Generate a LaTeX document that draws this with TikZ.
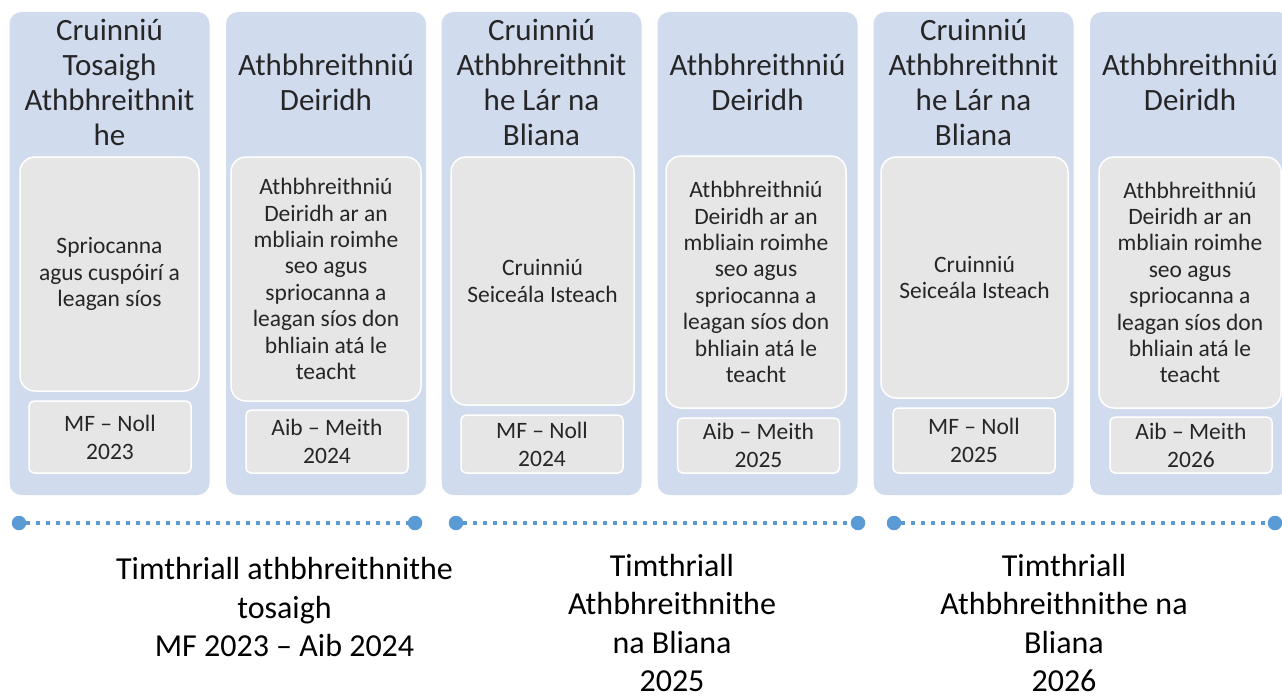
\documentclass[tikz,border=0pt]{standalone}
\usepackage{fontspec}
\setmainfont{Carlito}
\usepackage{tikz}
\usetikzlibrary{positioning,shapes,backgrounds,calc}
\definecolor{colblue}{HTML}{D0DBEE}
\definecolor{boxgrey}{HTML}{E6E6E6}
\definecolor{dotblue}{HTML}{5B9BD5}
\definecolor{ink}{HTML}{262626}

\begin{document}
\begin{tikzpicture}[x=1pt, y=1pt]
        \tikzset{
            column/.style={fill=colblue, rounded corners=12pt, minimum width=200pt, minimum height=483pt, inner sep=0pt},
            card/.style={fill=boxgrey, draw=white, line width=1.5pt, rounded corners=15pt, inner sep=0pt},
            datebox/.style={fill=boxgrey, draw=white, line width=1.5pt, rounded corners=5pt, inner sep=0pt, minimum width=162pt},
            heading/.style={font=\fontsize{31}{35}\selectfont, align=center, text=ink, inner sep=0pt},
            cardtext/.style={font=\fontsize{23.5}{26.4}\selectfont, align=center, text=ink, inner sep=0pt},
            datetext/.style={font=\fontsize{23.5}{28}\selectfont, align=center, text=ink, inner sep=0pt},
            cycle/.style={font=\fontsize{32}{38.5}\selectfont, align=center, text=black, inner sep=0pt},
            endpoint/.style={circle, fill=dotblue, minimum size=14.5pt, inner sep=0pt},
            timeline/.style={dotblue, line width=3.5pt, dash pattern=on 3.5pt off 6.5pt},
        }

        \clip (0,0) rectangle (1282,-697);

        % columns
        \node[column] (col1) at (109.5,-253.5) {};
        \node[column] (col2) at (326,-253.5) {};
        \node[column] (col3) at (541.5,-253.5) {};
        \node[column] (col4) at (757.5,-253.5) {};
        \node[column] (col5) at (973.5,-253.5) {};
        \node[column] (col6) at (1190,-253.5) {};

        % headings
        \node[heading] (head1) at (109.5,-82.5) {Cruinniú\\Tosaigh\\Athbhreithnit\\he};
        \node[heading] (head2) at (326,-82.5) {Athbhreithniú\\Deiridh};
        \node[heading] (head3) at (541.5,-82.5) {Cruinniú\\Athbhreithnit\\he Lár na\\Bliana};
        \node[heading] (head4) at (757.5,-82.5) {Athbhreithniú\\Deiridh};
        \node[heading] (head5) at (973.5,-82.5) {Cruinniú\\Athbhreithnit\\he Lár na\\Bliana};
        \node[heading] (head6) at (1190,-82.5) {Athbhreithniú\\Deiridh};

        % cards
        \node[card, minimum width=179pt, minimum height=234pt] (card1) at (109.5,-274) {};
        \node[card, minimum width=190pt, minimum height=244pt] (card2) at (326,-279) {};
        \node[card, minimum width=183pt, minimum height=248pt] (card3) at (542.5,-281) {};
        \node[card, minimum width=180pt, minimum height=252pt] (card4) at (756,-282) {};
        \node[card, minimum width=187pt, minimum height=241pt] (card5) at (974.5,-277.5) {};
        \node[card, minimum width=182pt, minimum height=251pt] (card6) at (1190,-282.5) {};

        \node[cardtext] (txt1) at (card1) {Spriocanna\\agus cuspóirí a\\leagan síos};
        \node[cardtext] (txt2) at (card2) {Athbhreithniú\\Deiridh ar an\\mbliain roimhe\\seo agus\\spriocanna a\\leagan síos don\\bhliain atá le\\teacht};
        \node[cardtext] (txt3) at (card3) {Cruinniú\\Seiceála Isteach};
        \node[cardtext] (txt4) at (card4) {Athbhreithniú\\Deiridh ar an\\mbliain roimhe\\seo agus\\spriocanna a\\leagan síos don\\bhliain atá le\\teacht};
        \node[cardtext] (txt5) at (card5) {Cruinniú\\Seiceála Isteach};
        \node[cardtext] (txt6) at (card6) {Athbhreithniú\\Deiridh ar an\\mbliain roimhe\\seo agus\\spriocanna a\\leagan síos don\\bhliain atá le\\teacht};

        % dates
        \node[datebox, minimum height=72pt] (date1) at (110,-437) {};
        \node[datebox, minimum height=63pt] (date2) at (327,-441.5) {};
        \node[datebox, minimum height=58pt] (date3) at (542,-444) {};
        \node[datebox, minimum height=55pt] (date4) at (758.5,-445.5) {};
        \node[datebox, minimum height=65pt] (date5) at (974,-440.5) {};
        \node[datebox, minimum height=56pt] (date6) at (1191,-445) {};

        \node[datetext] at (date1) {MF – Noll\\2023};
        \node[datetext] at (date2) {Aib – Meith\\2024};
        \node[datetext] at (date3) {MF – Noll\\2024};
        \node[datetext] at (date4) {Aib – Meith\\2025};
        \node[datetext] at (date5) {MF – Noll\\2025};
        \node[datetext] at (date6) {Aib – Meith\\2026};

        % timeline
        \node[endpoint] (t1a) at (19,-523) {};
        \node[endpoint] (t1b) at (415,-523) {};
        \node[endpoint] (t2a) at (456,-523) {};
        \node[endpoint] (t2b) at (858,-523) {};
        \node[endpoint] (t3a) at (894,-523) {};
        \node[endpoint] (t3b) at (1275,-523) {};

        \draw[timeline] (t1a) -- (t1b);
        \draw[timeline] (t2a) -- (t2b);
        \draw[timeline] (t3a) -- (t3b);

        % cycles
        \node[cycle] (cycle1) at (284.5,-607) {Timthriall athbhreithnithe\\tosaigh\\MF 2023 – Aib 2024};
        \node[cycle] (cycle2) at (672,-623) {Timthriall\\Athbhreithnithe\\na Bliana\\2025};
        \node[cycle] (cycle3) at (1064,-623) {Timthriall\\Athbhreithnithe na\\Bliana\\2026};
    \end{tikzpicture}
\end{document}
